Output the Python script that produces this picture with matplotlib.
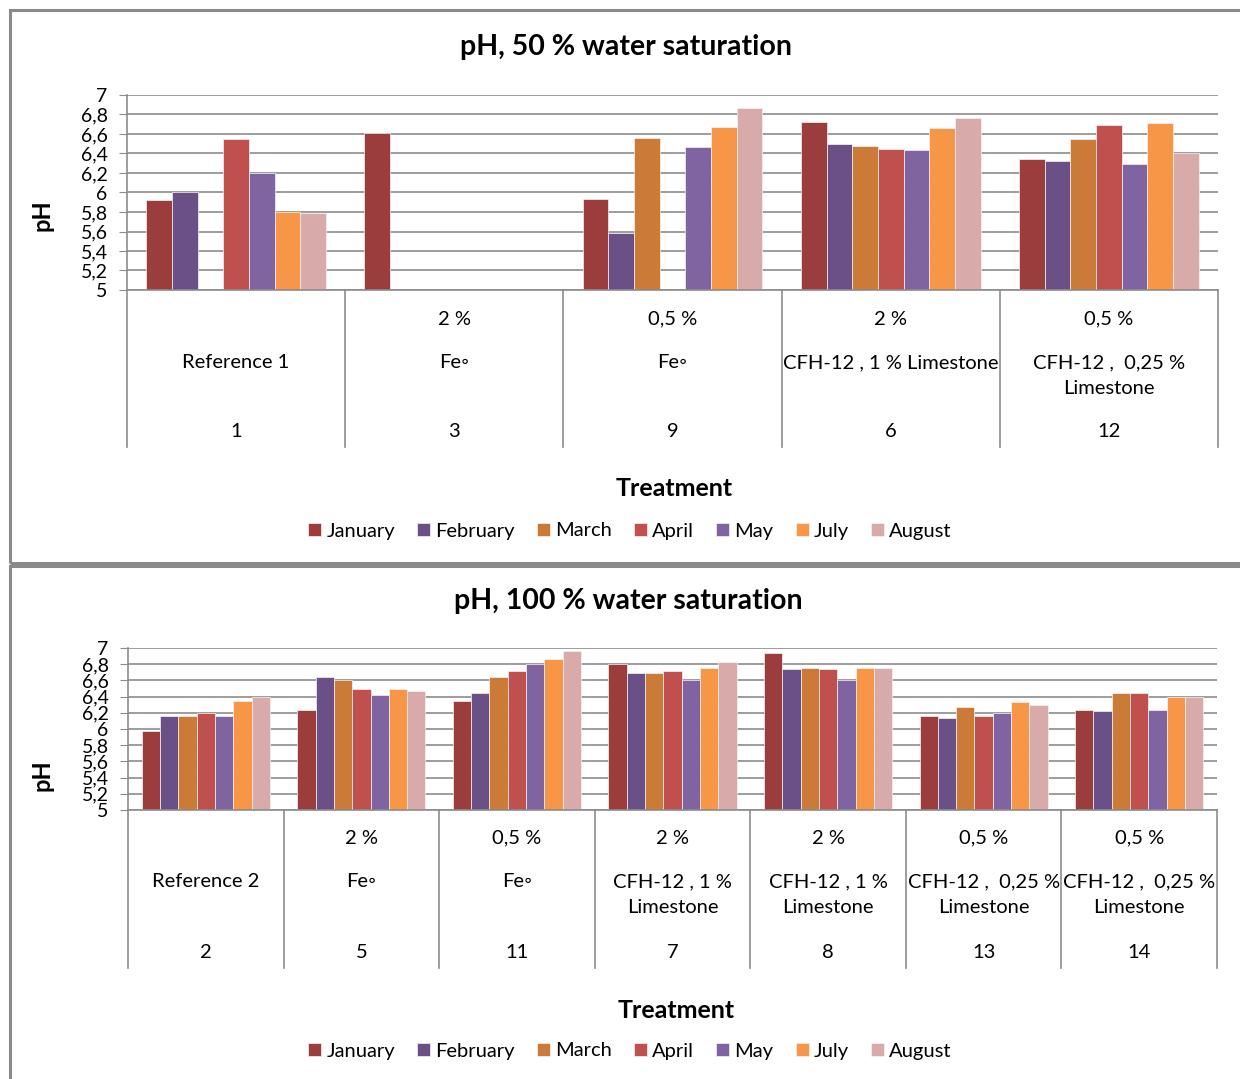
import matplotlib.pyplot as plt
import numpy as np
from matplotlib.patches import Rectangle

plt.rcParams['font.family'] = ['Lato', 'DejaVu Sans']

nan = np.nan
months = ['January', 'February', 'March', 'April', 'May', 'July', 'August']
colors = ['#9C3D3D', '#6A5087', '#CB7A38', '#C0504D', '#8064A2', '#F79646', '#D9AAAA']

yticks = [5, 5.2, 5.4, 5.6, 5.8, 6, 6.2, 6.4, 6.6, 6.8, 7]
ytick_labels = ['5', '5,2', '5,4', '5,6', '5,8', '6', '6,2', '6,4', '6,6', '6,8', '7']

# 50 % water saturation (rows = months, columns = treatments)
pct50 = ['', '2 %', '0,5 %', '2 %', '0,5 %']
name50 = ['Reference 1', 'Fe◦', 'Fe◦', 'CFH-12 , 1 % Limestone', 'CFH-12 ,  0,25 %\nLimestone']
num50 = ['1', '3', '9', '6', '12']
ph50 = [
    [5.92, 6.61, 5.93, 6.72, 6.34],
    [6.00, nan, 5.58, 6.50, 6.32],
    [nan, nan, 6.56, 6.48, 6.55],
    [6.55, nan, nan, 6.45, 6.69],
    [6.20, nan, 6.47, 6.44, 6.29],
    [5.80, nan, 6.67, 6.66, 6.71],
    [5.79, nan, 6.87, 6.76, 6.40],
]

# 100 % water saturation
pct100 = ['', '2 %', '0,5 %', '2 %', '2 %', '0,5 %', '0,5 %']
name100 = ['Reference 2', 'Fe◦', 'Fe◦', 'CFH-12 , 1 %\nLimestone', 'CFH-12 , 1 %\nLimestone',
           'CFH-12 ,  0,25 %\nLimestone', 'CFH-12 ,  0,25 %\nLimestone']
num100 = ['2', '5', '11', '7', '8', '13', '14']
ph100 = [
    [5.98, 6.23, 6.34, 6.80, 6.94, 6.16, 6.24],
    [6.16, 6.64, 6.44, 6.69, 6.74, 6.14, 6.22],
    [6.16, 6.60, 6.64, 6.69, 6.75, 6.27, 6.44],
    [6.20, 6.49, 6.71, 6.71, 6.74, 6.16, 6.44],
    [6.16, 6.42, 6.80, 6.60, 6.60, 6.20, 6.24],
    [6.34, 6.49, 6.87, 6.75, 6.75, 6.33, 6.40],
    [6.40, 6.47, 6.96, 6.83, 6.75, 6.30, 6.39],
]

W, H = 1240, 1079
gray = '#8c8c8c'
fig = plt.figure(figsize=(W / 100, H / 100), dpi=100)


def panel(ax, data, pct, names, nums, y_pct, y_name, y_num, y_sep):
    n = len(nums)
    x = np.arange(n)
    w = 1 / 8.5
    bars = []
    for i, m in enumerate(months):
        b = ax.bar(x + (i - 3) * w, data[i], w, color=colors[i], edgecolor='#f4f4f4',
                   linewidth=0.5, label=m, zorder=2)
        bars.append(b)
    ax.set_xlim(-0.5, n - 0.5)
    ax.set_ylim(5, 7)
    ax.set_yticks(yticks)
    ax.set_yticklabels(ytick_labels)
    ax.set_xticks([])
    ax.yaxis.grid(True, color=gray, lw=1.2)
    ax.set_axisbelow(True)
    ax.tick_params(axis='y', length=6, color=gray, labelsize=14, pad=8)
    for s in ['top', 'right']:
        ax.spines[s].set_visible(False)
    for s in ['left', 'bottom']:
        ax.spines[s].set_color(gray)
        ax.spines[s].set_linewidth(1.2)
    tr = ax.get_xaxis_transform()
    for k in range(n + 1):
        ax.plot([k - 0.5, k - 0.5], [0, y_sep], color=gray, lw=1.2, transform=tr, clip_on=False)
    for k in range(n):
        ax.text(k, y_pct, pct[k], ha='center', va='center', fontsize=14.5, transform=tr)
        ax.text(k, y_name, names[k], ha='center', va='top', fontsize=14.5, linespacing=1.6,
                transform=tr)
        ax.text(k, y_num, nums[k], ha='center', va='center', fontsize=14.5, transform=tr)
    return bars


ax1 = fig.add_axes([127 / W, 1 - 290 / H, 1091 / W, 195 / H])
bars1 = panel(ax1, ph50, pct50, name50, num50, -0.149, -0.33, -0.728, -0.805)
ax2 = fig.add_axes([128 / W, 1 - 810 / H, 1089 / W, 162 / H])
bars2 = panel(ax2, ph100, pct100, name100, num100, -0.173, -0.39, -0.877, -0.975)

# titles, axis titles, legends
fig.text(626 / W, 1 - 47 / H, 'pH, 50 % water saturation', ha='center', va='center',
         fontsize=20.5, fontweight='bold')
fig.text(628 / W, 1 - 601 / H, 'pH, 100 % water saturation', ha='center', va='center',
         fontsize=20.5, fontweight='bold')
fig.text(674 / W, 1 - 489 / H, 'Treatment', ha='center', va='center', fontsize=18, fontweight='bold')
fig.text(676 / W, 1 - 1011 / H, 'Treatment', ha='center', va='center', fontsize=18, fontweight='bold')
fig.text(42 / W, 1 - 215 / H, 'pH', rotation=90, ha='center', va='center', fontsize=17, fontweight='bold')
fig.text(42 / W, 1 - 775 / H, 'pH', rotation=90, ha='center', va='center', fontsize=17, fontweight='bold')

for bars, yy in [(bars1, 531), (bars2, 1051)]:
    fig.legend(bars, months, loc='center', bbox_to_anchor=(630 / W, 1 - yy / H), ncol=7,
               frameon=False, fontsize=14.5, handlelength=0.65, handleheight=0.65,
               handletextpad=0.25, columnspacing=1.1)

# panel borders
fig.add_artist(Rectangle((10 / W, 1 - 563 / H), 1.5, 553 / H, transform=fig.transFigure,
                         fill=False, edgecolor='#8a8a8a', lw=2.2))
fig.add_artist(Rectangle((10 / W, -0.5), 1.5, 0.5 + 1 - 566 / H, transform=fig.transFigure,
                         fill=False, edgecolor='#8a8a8a', lw=2.2))

fig.savefig('out.png', dpi=100)
